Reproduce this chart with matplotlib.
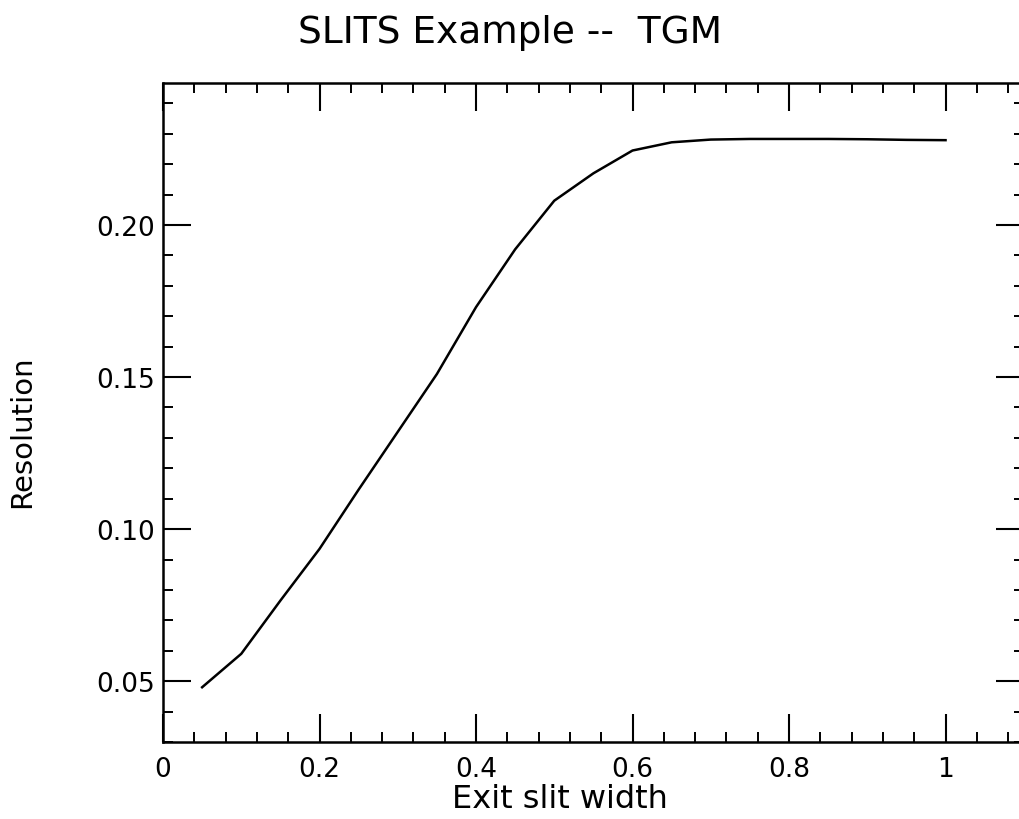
import matplotlib
matplotlib.use("Agg")
import matplotlib.pyplot as plt
from matplotlib.ticker import MultipleLocator, FuncFormatter

# values
slit_width = [0.05, 0.10, 0.15, 0.20, 0.25, 0.30, 0.35, 0.40, 0.45, 0.50,
              0.55, 0.60, 0.65, 0.70, 0.75, 0.80, 0.85, 0.90, 0.95, 1.00]
resolution = [0.048, 0.059, 0.0765, 0.0935, 0.113, 0.132, 0.151, 0.173, 0.192, 0.208,
              0.217, 0.2245, 0.2272, 0.2281, 0.2283, 0.2283, 0.2283, 0.2282, 0.2280, 0.2279]

title = "SLITS Example --  TGM"
x_label = "Exit slit width"
y_label = "Resolution"

plt.rcParams["font.family"] = ["DejaVu Sans"]

fig = plt.figure(figsize=(10.2, 8.2), dpi=100)
ax = fig.add_axes([163 / 1020, 77 / 820, 860.8 / 1020, 659 / 820])

ax.plot(slit_width, resolution, color="black", linewidth=1.8)

ax.set_xlim(0, 1.1)
ax.set_ylim(0.03, 0.2467)

ax.xaxis.set_major_locator(MultipleLocator(0.2))
ax.xaxis.set_minor_locator(MultipleLocator(0.04))
ax.yaxis.set_major_locator(MultipleLocator(0.05))
ax.yaxis.set_minor_locator(MultipleLocator(0.01))
ax.xaxis.set_major_formatter(FuncFormatter(lambda v, p: "%g" % round(v, 2)))
ax.yaxis.set_major_formatter(FuncFormatter(lambda v, p: "%.2f" % v))

ax.tick_params(which="both", direction="in", top=True, right=True, color="black")
ax.tick_params(which="major", length=20, width=1.5)
ax.tick_params(which="minor", length=7, width=1.4)
ax.tick_params(axis="x", which="major", labelsize=19, pad=10)
ax.tick_params(axis="y", which="major", labelsize=19, pad=6)

for s in ax.spines.values():
    s.set_linewidth(1.8)

ax.set_xlabel(x_label, fontsize=23)
ax.xaxis.set_label_coords(0.461, -0.062)
ax.set_ylabel(y_label, fontsize=21)
ax.yaxis.set_label_coords(-0.147, 0.473)

fig.text(0.5, 1 - 43 / 820, title, ha="center", va="baseline", fontsize=27)

fig.savefig("out.png", dpi=100)
